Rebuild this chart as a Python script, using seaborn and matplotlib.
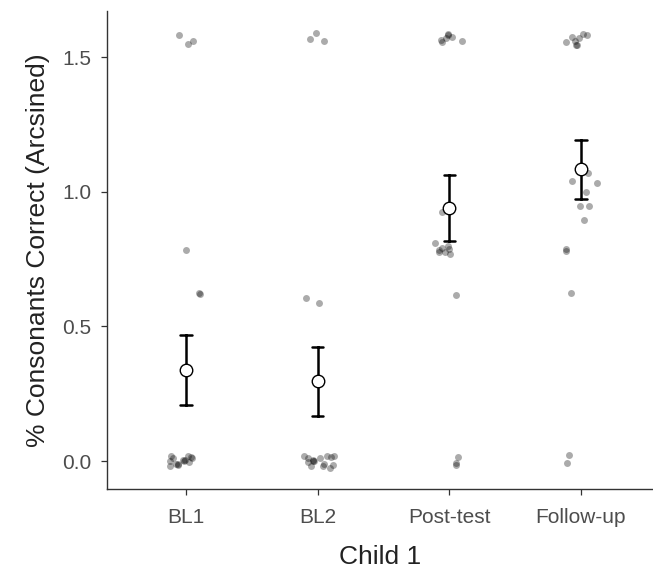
import numpy as np
import pandas as pd
import seaborn as sns
import matplotlib
matplotlib.use("Agg")
import matplotlib.pyplot as plt

# sessions and arcsine-transformed % consonants correct
sessions = ["BL1", "BL2", "Post-test", "Follow-up"]
bl1 = [1.547, 1.560, 1.580, 0.783, 0.625, 0.619,
       0.010, -0.010, 0.020, 0.000, -0.020, 0.005, 0.015,
       -0.015, 0.010, -0.005, 0.000, 0.020, -0.010, 0.005]
bl2 = [1.566, 1.560, 1.590, 0.604, 0.587,
       0.020, -0.020, 0.010, 0.000, -0.015, 0.020, -0.010, 0.015,
       -0.025, 0.005, 0.020, -0.020, 0.010, 0.000, -0.005]
post = [1.570, 1.580, 1.565, 1.555, 1.585, 1.560, 1.575,
        0.923, 0.790, 0.800, 0.775, 0.785, 0.770, 0.810, 0.789, 0.777,
        0.617, 0.016, -0.009, -0.015]
follow = [1.544, 1.580, 1.544, 1.585, 1.560, 1.570, 1.555, 1.575,
          1.034, 1.040, 1.070, 1.000, 0.946, 0.946, 0.894, 0.780, 0.786, 0.625,
          0.022, -0.006]

df = pd.DataFrame({
    "session": np.repeat(sessions, [len(bl1), len(bl2), len(post), len(follow)]),
    "score": bl1 + bl2 + post + follow,
})

sns.set_style("ticks")
plt.rcParams["font.family"] = ["Liberation Sans", "DejaVu Sans"]

fig = plt.figure(figsize=(6.53, 5.72), dpi=100)
ax = fig.add_axes([0.1639, 0.1446, 1.0 - 0.1639, 0.9808 - 0.1446])

np.random.seed(3)
sns.stripplot(data=df, x="session", y="score", order=sessions, color="black",
              alpha=0.33, size=5, linewidth=0, jitter=0.13, ax=ax, zorder=2)

sns.pointplot(data=df, x="session", y="score", order=sessions, errorbar="se",
              capsize=0.085, linestyle="none", color="black", marker="o",
              markersize=9, markerfacecolor="white", markeredgecolor="black",
              markeredgewidth=1.0, err_kws={"linewidth": 1.8, "zorder": 4},
              zorder=6, ax=ax)

ax.set_xlim(-0.6, 3.547)
ax.set_ylim(-0.105, 1.671)
ax.set_yticks([0.0, 0.5, 1.0, 1.5])
ax.set_yticklabels(["0.0", "0.5", "1.0", "1.5"])

for side in ["top", "right"]:
    ax.spines[side].set_visible(False)
for side in ["left", "bottom"]:
    ax.spines[side].set_color("#333333")
    ax.spines[side].set_linewidth(1.0)

ax.tick_params(axis="both", length=4.3, width=0.9, color="#333333",
               labelcolor="#4D4D4D", labelsize=15)
ax.tick_params(axis="y", pad=7)
ax.tick_params(axis="x", pad=9)
ax.set_xlabel("Child 1", fontsize=19, color="#222222", labelpad=13)
ax.set_ylabel("% Consonants Correct (Arcsined)", fontsize=19, color="#222222",
              labelpad=9)

fig.savefig("out.png", dpi=100)
